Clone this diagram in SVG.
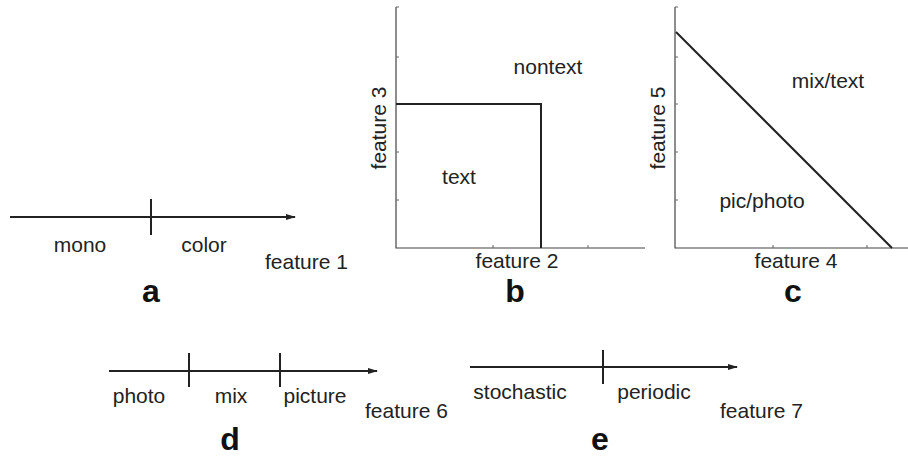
<svg xmlns="http://www.w3.org/2000/svg" width="908" height="457" viewBox="0 0 908 457">
<defs>
<marker id="arr" markerWidth="10" markerHeight="8" refX="9" refY="4" orient="auto" markerUnits="userSpaceOnUse">
<path d="M0,1 L10,4 L0,7 Z" fill="#222"/>
</marker>
<style>
.ln{stroke:#222;stroke-width:2;fill:none}
.ax{stroke:#444;stroke-width:1.2;fill:none}
.tk{stroke:#666;stroke-width:1;fill:none}
.t{font-family:"Liberation Sans",Arial,sans-serif;font-size:21px;fill:#222}
.m{text-anchor:middle}
.b{font-family:"Liberation Sans",Arial,sans-serif;font-size:32px;font-weight:bold;fill:#111;text-anchor:middle}
</style>
</defs>
<rect width="908" height="457" fill="#fff"/>
<g id="connectors">
<line class="ln" x1="10" y1="217" x2="295" y2="217" marker-end="url(#arr)"/>
<line class="ln" x1="151" y1="199" x2="151" y2="235"/>
<line class="ln" x1="109" y1="371" x2="377" y2="371" marker-end="url(#arr)"/>
<line class="ln" x1="189" y1="353" x2="189" y2="387"/>
<line class="ln" x1="280" y1="353" x2="280" y2="387"/>
<line class="ln" x1="470" y1="367" x2="737" y2="367" marker-end="url(#arr)"/>
<line class="ln" x1="603" y1="350" x2="603" y2="384"/>
</g>
<g id="panel-a">
<text class="t m" x="80" y="252">mono</text>
<text class="t m" x="204" y="252">color</text>
<text class="t" x="265" y="269">feature 1</text>
<text class="b" x="151" y="302">a</text>
</g>
<g id="panel-b">
<path class="ax" d="M396,7 V248 H645"/>
<path class="tk" d="M396,7 h3 M396,57 h3 M396,104 h3 M396,152 h3 M396,200 h3 M493,248 v-3 M588,248 v-3"/>
<path class="ln" d="M396,104 H541 V248"/>
<text class="t m" x="548" y="74">nontext</text>
<text class="t m" x="459" y="184">text</text>
<text class="t m" transform="translate(386,128) rotate(-90)">feature 3</text>
<text class="t m" x="517" y="268">feature 2</text>
<text class="b" x="515" y="302">b</text>
</g>
<g id="panel-c">
<path class="ax" d="M675,7 V248 H908"/>
<path class="tk" d="M675,7 h3 M675,57 h3 M675,104 h3 M675,152 h3 M675,200 h3 M773,248 v-3 M867,248 v-3"/>
<line class="ln" x1="676" y1="32" x2="892" y2="248"/>
<text class="t m" x="828" y="88">mix/text</text>
<text class="t m" x="762" y="208">pic/photo</text>
<text class="t m" transform="translate(665,128) rotate(-90)">feature 5</text>
<text class="t m" x="796" y="268">feature 4</text>
<text class="b" x="793" y="302">c</text>
</g>
<g id="panel-d">
<text class="t m" x="139" y="403">photo</text>
<text class="t m" x="231" y="403">mix</text>
<text class="t m" x="315" y="403">picture</text>
<text class="t" x="365" y="418">feature 6</text>
<text class="b" x="230" y="450">d</text>
</g>
<g id="panel-e">
<text class="t m" x="520" y="399">stochastic</text>
<text class="t m" x="654" y="399">periodic</text>
<text class="t" x="720" y="418">feature 7</text>
<text class="b" x="600" y="450">e</text>
</g>
</svg>
